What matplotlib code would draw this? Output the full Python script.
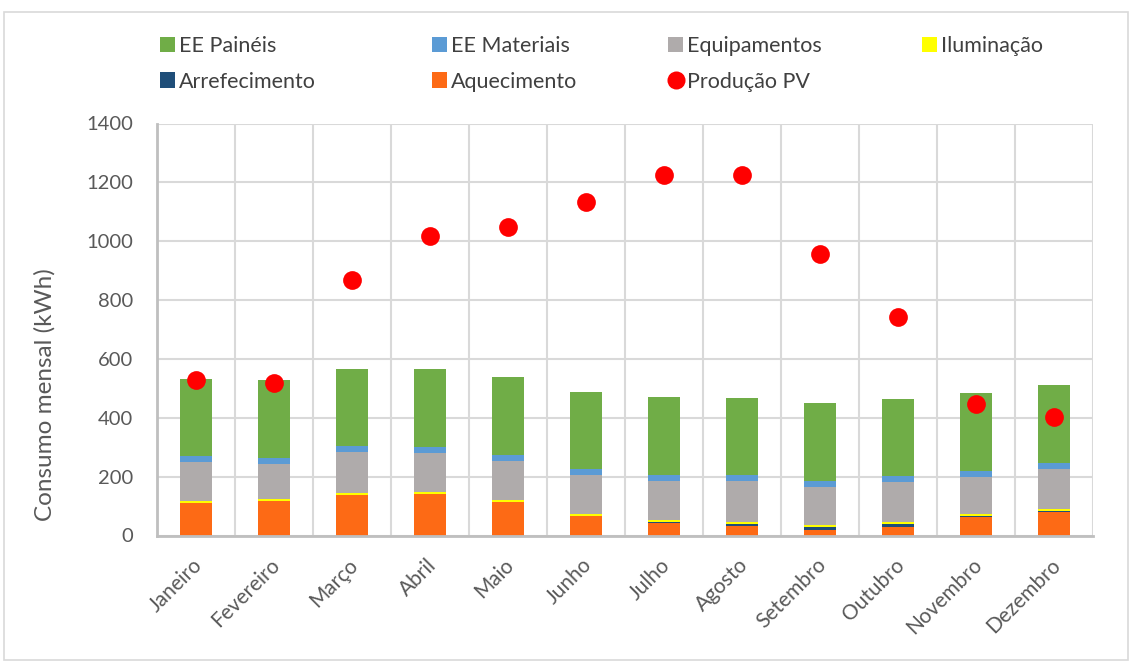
import matplotlib
matplotlib.use("Agg")
import matplotlib.pyplot as plt
from matplotlib.patches import Rectangle
from matplotlib.lines import Line2D
from matplotlib.transforms import ScaledTranslation
import numpy as np

plt.rcParams['font.family'] = ['Lato', 'DejaVu Sans']

meses = ["Janeiro", "Fevereiro", "Março", "Abril", "Maio", "Junho",
         "Julho", "Agosto", "Setembro", "Outubro", "Novembro", "Dezembro"]

# Consumo mensal por componente (kWh), empilhado de baixo para cima
aquecimento   = [109, 116, 137.5, 141, 113, 66, 42.5, 31, 20, 29, 62, 81]
arrefecimento = [2, 0.5, 0.3, 0, 0, 0.5, 4.5, 9, 10, 9, 4, 2]
iluminacao    = [7, 6.5, 6.7, 7, 7, 6.5, 5.7, 6, 6, 8, 7, 8]
equipamentos  = [131, 121, 138, 132.5, 133.5, 132.5, 132.5, 138, 130, 135, 126, 135]
ee_materiais  = [20, 20.5, 20.5, 21.5, 20.5, 20.5, 21.5, 20.5, 20.5, 20.5, 21.5, 20.5]
ee_paineis    = [263, 263, 264, 263, 264.5, 263, 264.3, 262.5, 263.5, 264, 262.5, 265]

# Produção fotovoltaica mensal (kWh)
producao_pv = [527, 518, 869, 1018, 1050, 1133, 1226, 1226, 957, 743, 446, 404]

series = [
    ("Aquecimento", aquecimento, "#fd6a15"),
    ("Arrefecimento", arrefecimento, "#1f4e79"),
    ("Iluminação", iluminacao, "#ffff00"),
    ("Equipamentos", equipamentos, "#afabab"),
    ("EE Materiais", ee_materiais, "#5b9bd5"),
    ("EE Painéis", ee_paineis, "#70ad47"),
]

W, H = 1132, 668
fig = plt.figure(figsize=(W / 100, H / 100), dpi=100)
fig.patch.set_facecolor("white")

# moldura do gráfico
fig.add_artist(Rectangle((4 / W, 1 - 660 / H), 1124 / W, 648 / H,
                         transform=fig.transFigure, fill=False,
                         edgecolor="#d9d9d9", linewidth=1.2))

ax = fig.add_axes([157 / W, 1 - 535.5 / H, (1093 - 157) / W, (535.5 - 123.5) / H])

x = np.arange(len(meses))
bottom = np.zeros(len(meses))
handles = {}
for nome, vals, cor in series:
    vals = np.array(vals, dtype=float)
    b = ax.bar(x, vals, width=0.4, bottom=bottom, color=cor,
               edgecolor="none", zorder=3, label=nome)
    handles[nome] = b
    bottom += vals

pv, = ax.plot(x, producao_pv, linestyle="none", marker="o", markersize=13.5,
              color="#ff0000", markeredgewidth=0, zorder=4, label="Produção PV")
handles["Produção PV"] = pv

ax.set_xlim(-0.5, len(meses) - 0.5)
ax.set_ylim(0, 1400)
ax.set_yticks(np.arange(0, 1401, 200))
ax.set_xticks(x)
ax.set_xticklabels(meses, rotation=45, ha="right", rotation_mode="anchor",
                   fontsize=15, color="#595959")
ax.tick_params(axis="x", length=0, pad=14)
ax.tick_params(axis="y", length=0, pad=17, labelsize=14.5, labelcolor="#595959")
desvio = ScaledTranslation(-4 / 100, 0, fig.dpi_scale_trans)
for lbl in ax.get_xticklabels():
    lbl.set_transform(lbl.get_transform() + desvio)

# grelha horizontal e separadores verticais entre meses
ax.yaxis.grid(True, color="#d9d9d9", linewidth=1.5, zorder=0)
for xb in np.arange(0.5, len(meses) - 0.5 + 1e-9, 1.0):
    ax.axvline(xb, color="#d9d9d9", linewidth=1.5, zorder=0)

for s in ("top", "right"):
    ax.spines[s].set_visible(False)
for s in ("left", "bottom"):
    ax.spines[s].set_color("#bfbfbf")
    ax.spines[s].set_linewidth(2)
    ax.spines[s].set_zorder(5)

fig.text(45 / W, 1 - 395 / H, "Consumo mensal (kWh)", rotation=90,
         ha="center", va="center", fontsize=17.5, color="#595959")

# legenda em quatro colunas, posicionadas individualmente
colunas = [
    (160, ["EE Painéis", "Arrefecimento"]),
    (432, ["EE Materiais", "Aquecimento"]),
    (668, ["Equipamentos", "Produção PV"]),
    (922, ["Iluminação"]),
]
for xc, nomes in colunas:
    hs = []
    for n in nomes:
        if n == "Produção PV":
            hs.append(Line2D([], [], linestyle="none", marker="o", markersize=13,
                             color="#ff0000", markeredgewidth=0))
        else:
            hs.append(handles[n])
    fig.legend(hs, nomes, loc="upper left",
               bbox_to_anchor=(xc / W, 1 - 36 / H),
               frameon=False, fontsize=15.5, labelcolor="#404040",
               handlelength=0.7, handleheight=0.7, handletextpad=0.2,
               labelspacing=0.72, borderaxespad=0, borderpad=0)

fig.savefig("out.png", dpi=100, facecolor="white")
